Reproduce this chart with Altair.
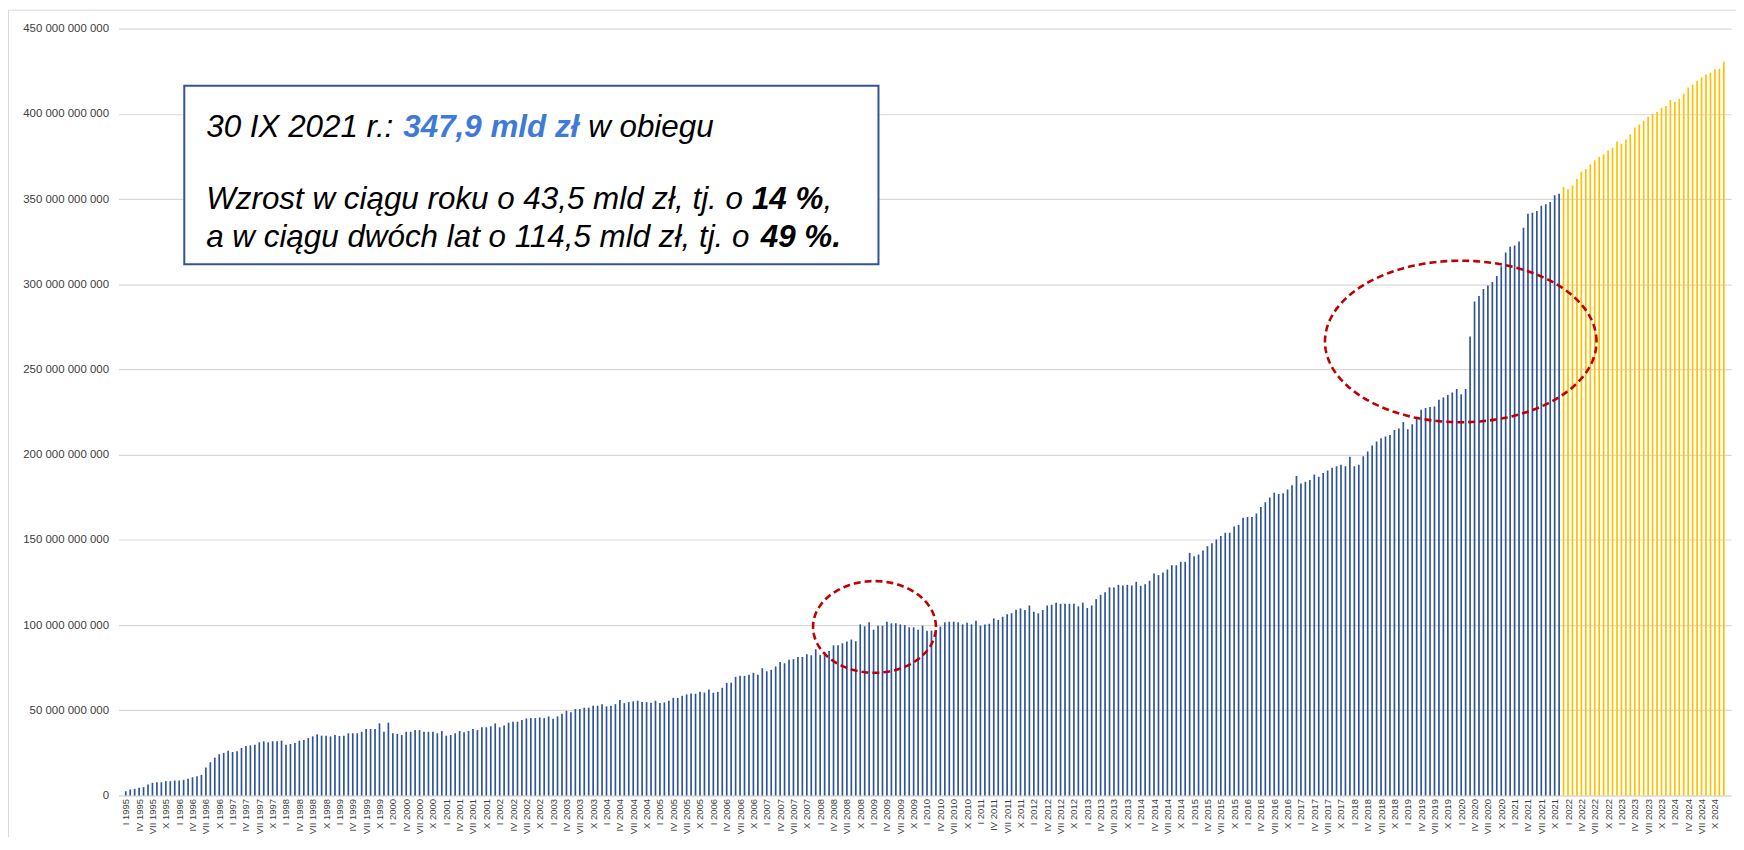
import json
import math
import numpy as np
import pandas as pd
import altair as alt

# ---------------- data (mld zł, monthly, I 1995 - XII 2024) ----------------
months = ["I", "II", "III", "IV", "V", "VI", "VII", "VIII", "IX", "X", "XI", "XII"]
years = list(range(1995, 2025))

values_1995_2002 = [
    2.5, 3.5, 3.9, 4.5, 4.9, 6.4, 7.4, 7.8, 7.8, 8.4,
    8.4, 8.8, 8.8, 9.2, 9.8, 10.7, 11.3, 12.1, 16.4, 19.5,
    22.2, 24.2, 25.0, 26.3, 25.5, 25.9, 27.9, 29.1, 29.4, 29.8,
    31.2, 31.8, 31.2, 31.8, 31.8, 32.2, 29.8, 30.2, 30.8, 32.2,
    32.6, 33.7, 34.7, 35.9, 35.1, 35.1, 34.7, 35.5, 34.9, 35.1,
    36.5, 36.5, 36.5, 37.4, 39.0, 39.0, 39.0, 42.3, 37.4, 42.7,
    36.5, 36.1, 35.5, 37.4, 37.4, 38.4, 38.4, 37.4, 37.4, 37.4,
    36.5, 37.8, 35.1, 35.5, 36.5, 37.8, 37.1, 37.8, 39.0, 38.4,
    40.0, 40.0, 40.6, 42.3, 40.0, 41.0, 42.7, 43.3, 43.3, 44.3,
    45.2,
]
values_2002_2009 = [
    45.4, 45.4, 45.8, 45.4, 46.4, 45.0, 46.4, 48.0, 49.7, 48.8,
    50.7, 50.7, 51.5, 51.5, 52.7, 52.7, 53.6, 52.3, 52.7, 53.6,
    56.0, 54.2, 54.8, 55.2, 55.6, 54.8, 54.8, 54.4, 55.6, 54.2,
    54.6, 55.6, 57.3, 57.3, 58.5, 59.3, 59.9, 59.7, 60.8, 60.4,
    62.2, 60.3, 60.8, 63.2, 66.1, 66.1, 69.6, 70.2, 70.2, 70.8,
    72.0, 70.8, 74.7, 72.9, 73.7, 75.7, 78.4, 77.6, 79.6, 80.0,
    81.3, 81.3, 82.9, 82.3, 85.8, 82.5, 84.0, 84.8, 88.1, 88.1,
    89.3, 90.3, 91.5, 90.5, 100.4, 99.3, 101.6, 97.3, 99.6, 99.6,
    102.0, 101.0, 101.0, 100.4, 100.0, 98.7, 98.7, 97.3, 99.6,
]
values_2010_2017 = [
    96.7, 96.7, 97.1, 99.1, 101.6, 102.0, 102.0, 101.6, 100.4, 101.4,
    100.4, 102.6, 99.6, 100.4, 100.8, 103.9, 103.0, 104.9, 106.3, 106.9,
    109.0, 109.8, 108.8, 111.5, 107.8, 106.9, 108.8, 111.5, 111.9, 113.1,
    112.5, 112.5, 112.5, 112.5, 111.0, 113.1, 110.0, 111.5, 115.2, 117.8,
    119.3, 122.1, 122.1, 123.6, 123.2, 123.6, 123.2, 125.4, 123.0, 124.0,
    126.0, 130.3, 129.3, 130.8, 132.6, 135.1, 135.1, 137.1, 137.1, 142.4,
    140.4, 141.4, 143.7, 146.3, 148.0, 150.2, 152.3, 154.2, 154.2, 157.8,
    158.7, 163.0, 163.4, 163.4, 165.4, 169.3, 172.0, 174.9, 177.6, 176.9,
    177.3, 179.6, 182.1, 187.4, 183.1, 184.1, 185.1, 188.4, 187.0, 189.3,
    190.7, 192.3, 193.2, 194.0,
]
values_2017_2021 = [
    193.2, 198.7, 193.2, 194.0, 199.1, 201.8, 205.3, 207.7, 209.6, 210.6,
    211.6, 214.5, 215.3, 219.2, 214.9, 217.8, 220.9, 226.4, 227.4, 228.0,
    228.3, 232.2, 233.6, 235.0, 236.5, 238.5, 235.4, 238.5, 269.3, 289.8,
    293.1, 297.2, 299.3, 301.3, 304.8, 310.6, 318.6, 322.0, 322.7, 325.1,
    333.1, 341.3, 342.0, 343.0, 346.1, 346.9, 348.3, 352.2, 353.1,
]
values_2021_2024 = [
    357.0, 355.7, 358.0, 361.7, 366.0, 367.6, 370.3, 372.8, 374.6, 376.2,
    378.5, 380.1, 383.8, 382.4, 384.9, 387.9, 392.0, 393.7, 395.9, 398.2,
    399.8, 401.1, 403.5, 404.6, 408.1, 407.0, 408.9, 411.8, 415.4, 417.1,
    419.3, 421.4, 423.0, 424.1, 426.1, 426.5, 430.6,
]

history = values_1995_2002 + values_2002_2009 + values_2010_2017 + values_2017_2021
projection = values_2021_2024
values_bln = history + projection
labels = [f"{m} {y}" for y in years for m in months]
n = len(values_bln)

df = pd.DataFrame({
    "idx": list(range(n)),
    "value": [v * 1e9 for v in values_bln],
    "series": ["hist"] * len(history) + ["proj"] * len(projection),
    "label": labels,
})

# dashed ellipses (centre in month index / mld zł, radii in months / mld zł)
ellipses = [
    {"cx": 168.2, "cy": 98.9, "rx": 13.8, "ry": 26.9},
    {"cx": 299.9, "cy": 266.4, "rx": 30.5, "ry": 47.4},
]
rows = []
for g, e in enumerate(ellipses):
    for k in range(181):
        t = 2 * math.pi * k / 180
        rows.append({"g": g, "o": k,
                     "idx": e["cx"] + e["rx"] * math.cos(t),
                     "value": (e["cy"] + e["ry"] * math.sin(t)) * 1e9})
df_ell = pd.DataFrame(rows)

# ---------------- layout ----------------
W, H = 1619, 770
FONT = "Liberation Sans"
BLUE = "#2F5597"
YELLOW = "#FFC000"

xscale = alt.Scale(domain=[-0.5, n - 0.5], nice=False, zero=False)
yscale = alt.Scale(domain=[0, 450e9], nice=False)

x_axis = alt.Axis(
    values=list(range(0, n, 3)),
    labelExpr=json.dumps(labels) + "[round(datum.value)]",
    labelAngle=270, labelAlign="right", labelBaseline="middle",
    labelFontSize=9.5, labelFont=FONT, labelColor="#404040",
    labelOverlap=False, labelPadding=3, ticks=False,
    domainColor="#D9D9D9", domainWidth=1, grid=False, title=None,
)
y_axis = alt.Axis(
    values=[i * 50e9 for i in range(10)],
    labelExpr="replace(format(datum.value, ','), regexp(',', 'g'), ' ')",
    labelFontSize=11.5, labelFont=FONT, labelColor="#404040",
    labelPadding=10, ticks=False, domain=False,
    grid=True, gridColor="#D9D9D9", gridWidth=1.2, title=None,
)

bars = alt.Chart(df).mark_bar(size=1.7).encode(
    x=alt.X("idx:Q", scale=xscale, axis=x_axis),
    y=alt.Y("value:Q", scale=yscale, axis=y_axis),
    color=alt.Color("series:N", scale=alt.Scale(domain=["hist", "proj"], range=[BLUE, YELLOW]), legend=None),
)

ell = alt.Chart(df_ell).mark_line(color="#C00000", strokeWidth=2.6, strokeDash=[7, 4]).encode(
    x=alt.X("idx:Q", scale=xscale, axis=x_axis),
    y=alt.Y("value:Q", scale=yscale, axis=y_axis),
    detail="g:N",
    order="o:Q",
)

one = pd.DataFrame({"a": [0]})

frame = alt.Chart(one).mark_rect(fillOpacity=0, stroke="#D9D9D9", strokeWidth=1).encode(
    x=alt.value(-110.5), x2=alt.value(W + 40), y=alt.value(-18.5), y2=alt.value(H + 90)
)

box = alt.Chart(one).mark_rect(fill="white", stroke="#2F5597", strokeWidth=2).encode(
    x=alt.value(66), x2=alt.value(763), y=alt.value(57.5), y2=alt.value(236.5)
)

# Arial-metric advance widths (per 1000 em)
REG = {" ": 278, ",": 278, ".": 278, ":": 278, "%": 889, "I": 278, "X": 667, "W": 944,
       "a": 556, "b": 556, "c": 500, "d": 556, "e": 556, "g": 556, "h": 556, "i": 222,
       "j": 222, "k": 500, "l": 222, "m": 833, "o": 556, "r": 333, "s": 500, "t": 278,
       "u": 556, "w": 722, "z": 500, "ą": 556, "ł": 222, "ó": 556}
BOLD = dict(REG, **{"m": 889, "l": 278, "d": 611, "ł": 278})
for dct in (REG, BOLD):
    for dgt in "0123456789":
        dct[dgt] = 556

FS = 31.5


def tw(s, bold):
    tab = BOLD if bold else REG
    return sum(tab.get(ch, 556) for ch in s) / 1000 * FS


lines = [
    (109, [("30 IX 2021 r.:", False, "black"), (" 347,9 mld zł", True, "#3F7AD6"), (" w obiegu", False, "black")]),
    (181, [("Wzrost w ciągu roku o 43,5 mld zł, tj. o", False, "black"), (" 14 %", True, "black"), (",", False, "black")]),
    (219, [("a w ciągu dwóch lat o 114,5 mld zł, tj. o", False, "black"), (" 49 %.", True, "black")]),
]

texts = []
for yb, segs in lines:
    x = 88.0
    for s, bold, col in segs:
        lead = len(s) - len(s.lstrip(" "))
        x += tw(s[:lead], bold)
        core = s.strip(" ")
        texts.append(
            alt.Chart(one).mark_text(
                align="left", baseline="alphabetic", font=FONT, fontSize=FS,
                fontStyle="italic", fontWeight="bold" if bold else "normal", color=col,
            ).encode(x=alt.value(x), y=alt.value(yb), text=alt.value(core))
        )
        x += tw(core, bold)

chart = alt.layer(frame, bars, ell, box, *texts).properties(
    width=W, height=H,
    padding={"left": 111, "top": 19, "right": 5, "bottom": 40},
    autosize=alt.AutoSizeParams(type="none"),
    background="white",
).configure_view(stroke=None).configure_axisX(
    labelAngle=270, labelOverlap=False
)

chart.save("out.html", embed_options={"renderer": "svg", "actions": False})
